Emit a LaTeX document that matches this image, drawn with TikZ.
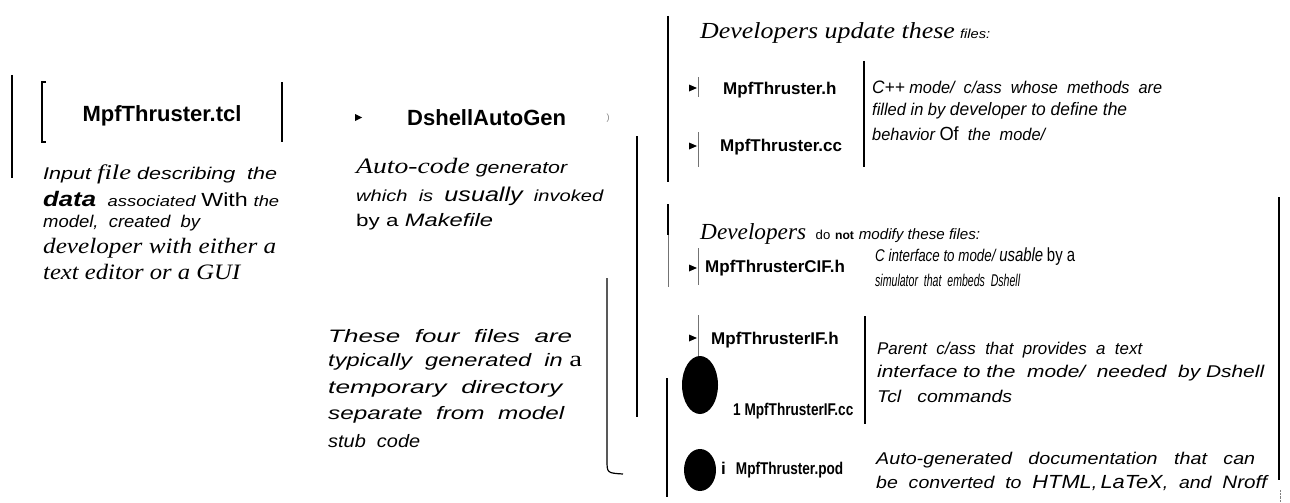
\documentclass[tikz,border=0pt]{standalone}
\usepackage{fontspec}
\setmainfont{Liberation Sans}
\newfontfamily\tms{Liberation Serif}
\usepackage{graphicx}
\usetikzlibrary{positioning}

\newcommand{\fs}[1]{\fontsize{#1}{#1}\selectfont}
\newcommand{\srf}[2]{{\tms\itshape\fs{#1}#2}}
\newcommand{\fitw}[2]{\resizebox{#1pt}{\height}{#2}}

\tikzset{
  bigname/.style={font=\bfseries\fs{22}, inner sep=0pt},
  fname/.style={font=\bfseries\fs{17}, inner sep=0pt, anchor=west},
  note/.style={anchor=west, inner sep=0pt, font=\itshape\fs{17}},
  serifnote/.style={anchor=west, inner sep=0pt, font=\tms\itshape\fs{22}},
  rule/.style={line width=1.2pt},
  thinrule/.style={line width=0.6pt, black!55},
}

\begin{document}
\begin{tikzpicture}[x=1pt, y=-1pt]
    \useasboundingbox (0,0) rectangle (1290,503);

    % input file
    \draw[rule] (12,75) -- (12,178);
    \draw[rule] (46,82) -- (42,82) -- (42,142) -- (46,142);
    \draw[rule] (282,82) -- (282,142);
    \node[bigname] (tcl) at (162,116) {MpfThruster.tcl};
    \node[note] (tcl1) at (43,174) {\fitw{234}{Input \srf{21}{file} describing\ \ the}};
    \node[note] (tcl2) at (43,199) {\fitw{236}{{\bfseries\fs{21}data}\ \ {\fs{15}associated} {\upshape\fs{19}With} {\fs{15}the}}};
    \node[note] (tcl3) at (43,223) {\fitw{157}{model,\ \ created\ \ by}};
    \node[serifnote] (tcl4) at (43,248) {\fitw{233}{developer with either a}};
    \node[serifnote] (tcl5) at (43,272) {\fitw{197}{text editor or a GUI}};

    % generator
    \fill (355,114) -- (362,117.5) -- (355,121) -- cycle;
    \node[bigname, anchor=west] (gen) at (407,118) {DshellAutoGen};
    \node[font=\fs{9}, text=black!50] (paren) at (608,118) {)};
    \node[note] (gen1) at (356,168) {\fitw{211}{\srf{22}{Auto-code} generator}};
    \node[note, font=\itshape\fs{16}] (gen2) at (356,196) {\fitw{247}{which\ \ is\ \ {\fs{20}usually}\ \ invoked}};
    \node[note] (gen3) at (356,222) {\fitw{137}{{\upshape by a} {\fs{18}Makefile}}};

    \node[note, font=\itshape\fs{18}] (tmp1) at (328,336) {\fitw{244}{These\ \ four\ \ files\ \ are}};
    \node[note, font=\itshape\fs{18}] (tmp2) at (328,362) {\fitw{254}{typically\ \ generated\ \ in {\tms\upshape\fs{22}a}}};
    \node[note, font=\itshape\fs{18}] (tmp3) at (328,389) {\fitw{234}{temporary\ \ directory}};
    \node[note, font=\itshape\fs{18}] (tmp4) at (328,415) {\fitw{236}{separate\ \ from\ \ model}};
    \node[note, font=\itshape\fs{18}] (tmp5) at (328,441) {\fitw{92}{stub\ \ code}};

    % rules between the groups
    \draw[rule] (637,136) -- (637,417);
    \draw[rule] (607,278) -- (607,460) .. controls (607,473) .. (623,474);
    \draw[rule] (668,16) -- (668,182);
    \draw[line width=2.6pt] (668,204) -- (668,235);
    \draw[thinrule] (668,235) -- (668,287);
    \draw[rule] (667,378) -- (667,497);
    \draw[rule] (864,61) -- (864,167);
    \draw[rule] (865,316) -- (865,424);
    \draw[rule] (1279,197) -- (1279,480);
    \draw[densely dotted, black!50] (1280,490) -- (1280,502);

    % small tips and marks
    \foreach \y in {88,146,268,338}
        \fill (689,\y-3.5) -- (697,\y) -- (689,\y+3.5) -- cycle;
    \draw[thinrule] (698,77) -- (698,97);
    \draw[thinrule] (698,132) -- (698,167);
    \draw[thinrule] (698,248) -- (698,285);
    \draw[thinrule] (698,315) -- (698,362);
    \fill (700,385) ellipse (18 and 29);
    \fill (700,470) ellipse (16 and 21);

    % files developers update
    \node[note] (upd) at (700,33) {\fitw{290}{\srf{23}{Developers update these} {\fs{13}files:}}};
    \node[fname] (h) at (723,90) {MpfThruster.h};
    \node[fname] (cc) at (720,147) {MpfThruster.cc};
    \node[note] (hd1) at (872,87) {\fitw{290}{{\fs{18}C++} mode/\ \ c/ass\ \ whose\ \ methods\ \ are}};
    \node[note] (hd2) at (872,111) {\fitw{255}{filled in by {\fs{18}developer to define the}}};
    \node[note] (hd3) at (872,134) {\fitw{173}{behavior {\upshape\fs{19}Of}\ \ the\ \ mode/}};

    % generated files
    \node[note] (nomod) at (700,234) {\fitw{280}{\srf{23}{Developers}\ \ {\upshape\fs{13}do} {\upshape\bfseries\fs{12}not} {\fs{15}modify these files:}}};
    \node[fname] (cif) at (705,268) {MpfThrusterCIF.h};
    \node[note] (cifd1) at (875,257) {\fitw{200}{C interface to mode/ {\fs{19}usable} {\upshape\fs{19}by a}}};
    \node[note] (cifd2) at (875,280) {\fitw{145}{simulator\ \ that\ \ embeds\ \ Dshell}};
    \node[fname] (ifh) at (711,340) {MpfThrusterIF.h};
    \node[fname] (ifcc) at (733,411) {\scalebox{0.8}[1]{1 MpfThrusterIF.cc}};
    \node[note] (ifd1) at (877,350) {\fitw{265}{Parent\ \ c/ass\ \ that\ \ provides\ \ a\ \ text}};
    \node[note] (ifd2) at (877,373) {\fitw{387}{interface to the\ \ mode/\ \ needed\ \ by Dshell}};
    \node[note] (ifd3) at (877,396) {\fitw{135}{Tcl\ \ \ commands}};
    \node[fname] (pod) at (721,470) {i\hspace{10pt}\scalebox{0.8}[1]{MpfThruster.pod}};
    \node[note] (podd1) at (876,460) {\fitw{379}{Auto-generated\ \ \ documentation\ \ \ that\ \ \ can}};
    \node[note] (podd2) at (876,483) {\fitw{391}{be\ \ converted\ \ to\ \ {\fs{19}HTML},\,{\fs{19}LaTeX},\ \ and\ \ {\fs{18}Nroff}}};
\end{tikzpicture}
\end{document}
